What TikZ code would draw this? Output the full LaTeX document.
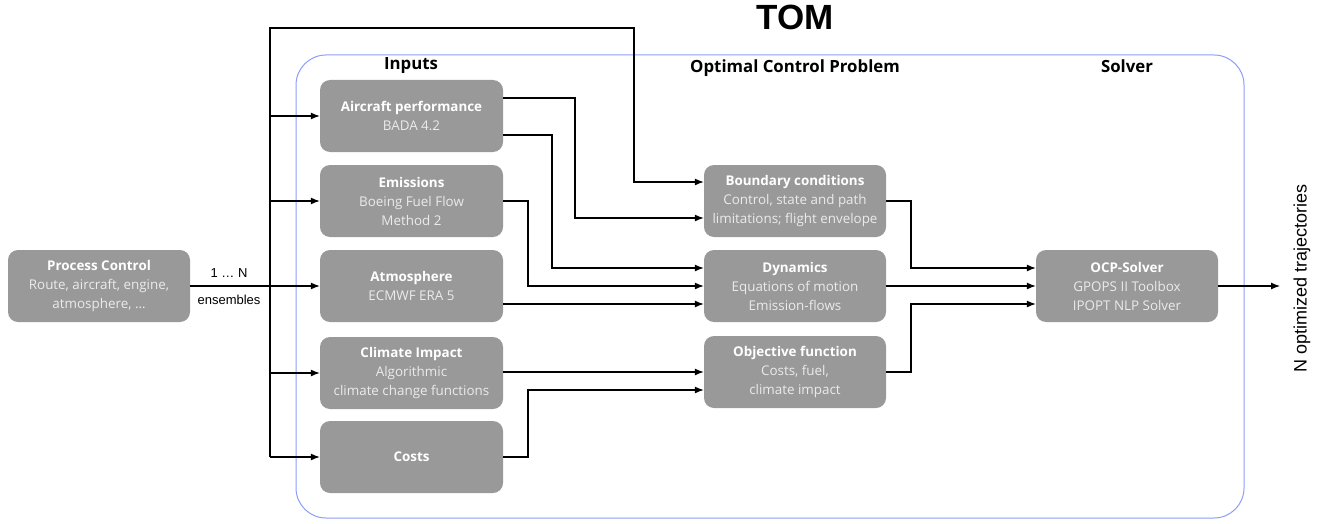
\documentclass[tikz,border=0pt]{standalone}
\usepackage{fontspec}
\setmainfont{Open Sans}
\newfontfamily\arialf{Liberation Sans}
\usetikzlibrary{arrows.meta}
\definecolor{boxgray}{HTML}{999999}
\definecolor{subtxt}{HTML}{EBEBEB}
\definecolor{frameblue}{HTML}{8C9CFA}
\newcommand\subt[1]{{\color{subtxt}#1}}
\begin{document}
\begin{tikzpicture}[x=1pt,y=-1pt,
  box/.style={draw=none, fill=boxgray, rounded corners=10pt, minimum width=182pt, minimum height=72pt, inner sep=0pt, align=center, text=white, font=\fontsize{13.4}{19}\selectfont},
  conn/.style={draw=black, line width=1.1pt, -{Latex[length=9pt,width=7pt]}},
  wire/.style={draw=black, line width=1.1pt},
  head/.style={font=\fontsize{16.8}{18}\selectfont\bfseries, text=black},
  lbl/.style={font=\arialf\fontsize{13}{15}\selectfont, text=black}]
\useasboundingbox (0,0) rectangle (1329,524);

% frame
\draw[frameblue, line width=1pt, rounded corners=30pt] (296,55) rectangle (1244,518);

% headings
\node[font=\arialf\fontsize{35}{38}\selectfont\bfseries] (tom) at (795,17) {TOM};
\node[head] (hin) at (411,66) {Inputs};
\node[head] (hocp) at (795,68) {Optimal Control Problem};
\node[head] (hsol) at (1127,66) {Solver};

% boxes
\node[box] (pc) at (99,286) {\textbf{Process Control}\\\subt{Route, aircraft, engine,}\\\subt{atmosphere, \dots}};
\node[box, minimum width=183pt] (ap) at (411.5,116) {\textbf{Aircraft performance}\\\subt{BADA 4.2}};
\node[box, minimum width=183pt] (em) at (411.5,201) {\textbf{Emissions}\\\subt{Boeing Fuel Flow}\\\subt{Method 2}};
\node[box, minimum width=183pt] (atm) at (411.5,286) {\textbf{Atmosphere}\\\subt{ECMWF ERA 5}};
\node[box, minimum width=183pt] (ci) at (411.5,373) {\textbf{Climate Impact}\\\subt{Algorithmic}\\\subt{climate change functions}};
\node[box, minimum width=183pt] (co) at (411.5,457) {\textbf{Costs}};
\node[box] (bc) at (795,201) {\textbf{Boundary conditions}\\\subt{Control, state and path}\\\subt{limitations; flight envelope}};
\node[box] (dyn) at (795,286) {\textbf{Dynamics}\\\subt{Equations of motion}\\\subt{Emission-flows}};
\node[box] (obj) at (795,372) {\textbf{Objective function}\\\subt{Costs, fuel,}\\\subt{climate impact}};
\node[box] (ocp) at (1127,286) {\textbf{OCP-Solver}\\\subt{GPOPS II Toolbox}\\\subt{IPOPT NLP Solver}};

% output label
\node[font=\arialf\fontsize{18}{20}\selectfont, rotate=90] (outl) at (1302,278) {N optimized trajectories};
\coordinate (out) at (1280,286);

% process control & bus
\coordinate (bustop) at (270,28);
\coordinate (busbot) at (270,457);
\draw[conn] (pc.east) -- (atm.west);
\node[lbl] (n1) at (229,273) {1 \dots\ N};
\node[lbl] (n2) at (229,300) {ensembles};
\draw[conn] (busbot) -- (bustop) -- (634,28) -- (634,182) -- (bc.west |- 0,182);
\draw[conn] (bustop |- ap.west) -- (ap.west);
\draw[conn] (bustop |- em.west) -- (em.west);
\draw[conn] (bustop |- ci.west) -- (ci.west);
\draw[conn] (busbot) -- (co.west);

% inputs to OCP
\draw[conn] (ap.east |- 0,98) -- (575,98) -- (575,218) -- (bc.west |- 0,218);
\draw[conn] (ap.east |- 0,135) -- (552,135) -- (552,268) -- (dyn.west |- 0,268);
\draw[conn] (em.east) -- (528,201) -- (528,286) -- (dyn.west);
\draw[conn] (atm.east |- 0,304) -- (dyn.west |- 0,304);
\draw[conn] (ci.east |- 0,372) -- (obj.west |- 0,372);
\draw[conn] (co.east) -- (528,457) -- (528,390) -- (obj.west |- 0,390);

% OCP to solver
\draw[conn] (bc.east) -- (911,201) -- (911,268) -- (ocp.west |- 0,268);
\draw[conn] (dyn.east) -- (ocp.west);
\draw[conn] (obj.east) -- (911,372) -- (911,304) -- (ocp.west |- 0,304);
\draw[conn] (ocp.east) -- (out);
\end{tikzpicture}
\end{document}
